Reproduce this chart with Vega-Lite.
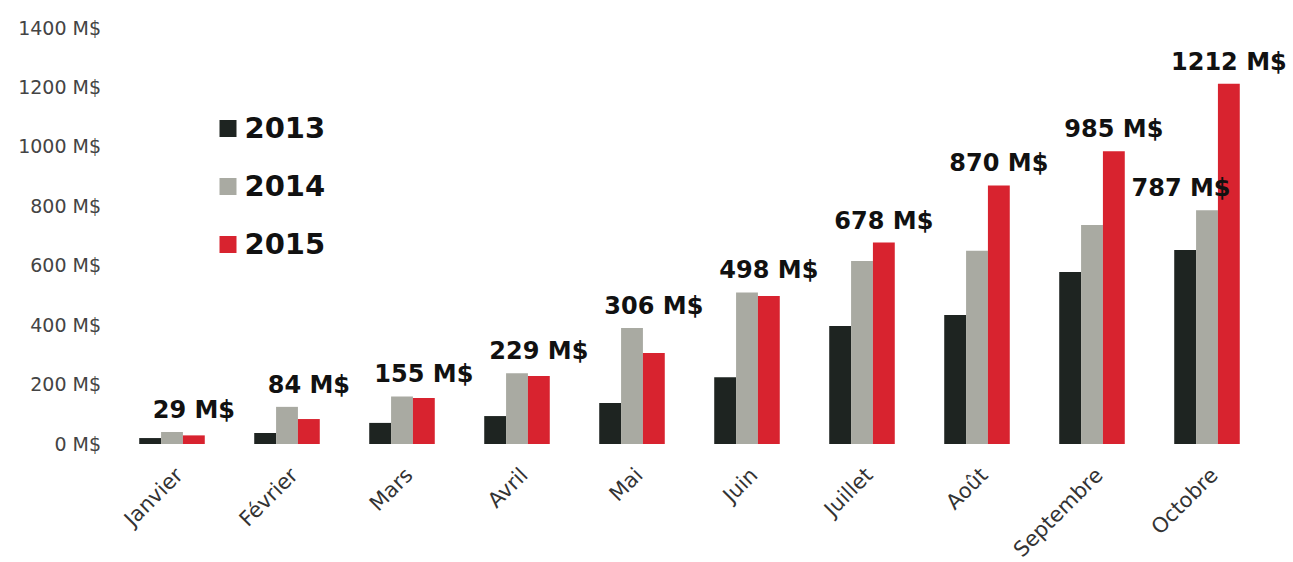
{
  "$schema": "https://vega.github.io/schema/vega-lite/v6.json",
  "autosize": {"type": "none"},
  "padding": {"left": 114.5, "top": 28, "right": 28.5, "bottom": 118},
  "width": 1150,
  "height": 416,
  "background": "white",
  "config": {
    "view": {"stroke": null},
    "font": "DejaVu Sans"
  },
  "data": {
    "values": [
      {"month": "Janvier", "year": "2013", "value": 20},
      {"month": "Janvier", "year": "2014", "value": 40},
      {"month": "Janvier", "year": "2015", "value": 29},
      {"month": "Février", "year": "2013", "value": 37},
      {"month": "Février", "year": "2014", "value": 125},
      {"month": "Février", "year": "2015", "value": 84},
      {"month": "Mars", "year": "2013", "value": 71},
      {"month": "Mars", "year": "2014", "value": 160},
      {"month": "Mars", "year": "2015", "value": 155},
      {"month": "Avril", "year": "2013", "value": 94},
      {"month": "Avril", "year": "2014", "value": 238},
      {"month": "Avril", "year": "2015", "value": 229},
      {"month": "Mai", "year": "2013", "value": 138},
      {"month": "Mai", "year": "2014", "value": 390},
      {"month": "Mai", "year": "2015", "value": 306},
      {"month": "Juin", "year": "2013", "value": 225},
      {"month": "Juin", "year": "2014", "value": 510},
      {"month": "Juin", "year": "2015", "value": 498},
      {"month": "Juillet", "year": "2013", "value": 397},
      {"month": "Juillet", "year": "2014", "value": 616},
      {"month": "Juillet", "year": "2015", "value": 678},
      {"month": "Août", "year": "2013", "value": 434},
      {"month": "Août", "year": "2014", "value": 650},
      {"month": "Août", "year": "2015", "value": 870},
      {"month": "Septembre", "year": "2013", "value": 579},
      {"month": "Septembre", "year": "2014", "value": 737},
      {"month": "Septembre", "year": "2015", "value": 985},
      {"month": "Octobre", "year": "2013", "value": 653},
      {"month": "Octobre", "year": "2014", "value": 787},
      {"month": "Octobre", "year": "2015", "value": 1212}
    ]
  },
  "encoding": {
    "x": {
      "field": "month",
      "type": "nominal",
      "sort": null,
      "scale": {"paddingInner": 0.43, "paddingOuter": 0.215},
      "axis": {
        "title": null,
        "domain": false,
        "ticks": false,
        "labelAngle": -45,
        "labelAlign": "right",
        "labelBaseline": "top",
        "labelPadding": 20,
        "labelFontSize": 21,
        "labelColor": "#333333",
        "labelFont": "DejaVu Sans"
      }
    },
    "xOffset": {"field": "year", "type": "nominal", "scale": {"paddingInner": 0, "paddingOuter": 0}},
    "y": {
      "field": "value",
      "type": "quantitative",
      "scale": {"domain": [0, 1400], "nice": false},
      "axis": {
        "title": null,
        "domain": false,
        "ticks": false,
        "grid": false,
        "values": [0, 200, 400, 600, 800, 1000, 1200, 1400],
        "labelExpr": "datum.value + ' M$'",
        "labelPadding": 14,
        "labelFontSize": 19,
        "labelColor": "#444444",
        "labelFont": "DejaVu Sans"
      }
    }
  },
  "layer": [
    {
      "mark": {"type": "bar"},
      "encoding": {
        "color": {
          "field": "year",
          "type": "nominal",
          "scale": {"domain": ["2013", "2014", "2015"], "range": ["#1e2421", "#a9aaa2", "#d8232f"]},
          "legend": {
            "title": null,
            "orient": "none",
            "legendX": 99,
            "legendY": 86,
            "symbolType": "square",
            "symbolSize": 289,
            "symbolStrokeWidth": 0,
            "labelFontSize": 29,
            "labelFontWeight": "bold",
            "labelColor": "#111111",
            "labelFont": "DejaVu Sans",
            "labelOffset": 2,
            "rowPadding": 28
          }
        }
      }
    },
    {
      "transform": [
        {"joinaggregate": [{"op": "max", "field": "value", "as": "top"}], "groupby": ["month"]},
        {"filter": "datum.year == '2015'"},
        {"calculate": "datum.value + ' M$'", "as": "label"}
      ],
      "mark": {"type": "text", "baseline": "alphabetic", "dy": -14, "fontSize": 24, "fontWeight": "bold", "color": "#111111", "font": "DejaVu Sans"},
      "encoding": {
        "y": {"field": "top", "type": "quantitative"},
        "text": {"field": "label"}
      }
    },
    {
      "transform": [
        {"filter": "datum.month == 'Octobre' && datum.year == '2014'"},
        {"calculate": "datum.value + ' M$'", "as": "label"}
      ],
      "mark": {"type": "text", "baseline": "alphabetic", "dy": -14, "dx": -26, "fontSize": 24, "fontWeight": "bold", "color": "#111111", "font": "DejaVu Sans"},
      "encoding": {
        "text": {"field": "label"}
      }
    }
  ]
}
